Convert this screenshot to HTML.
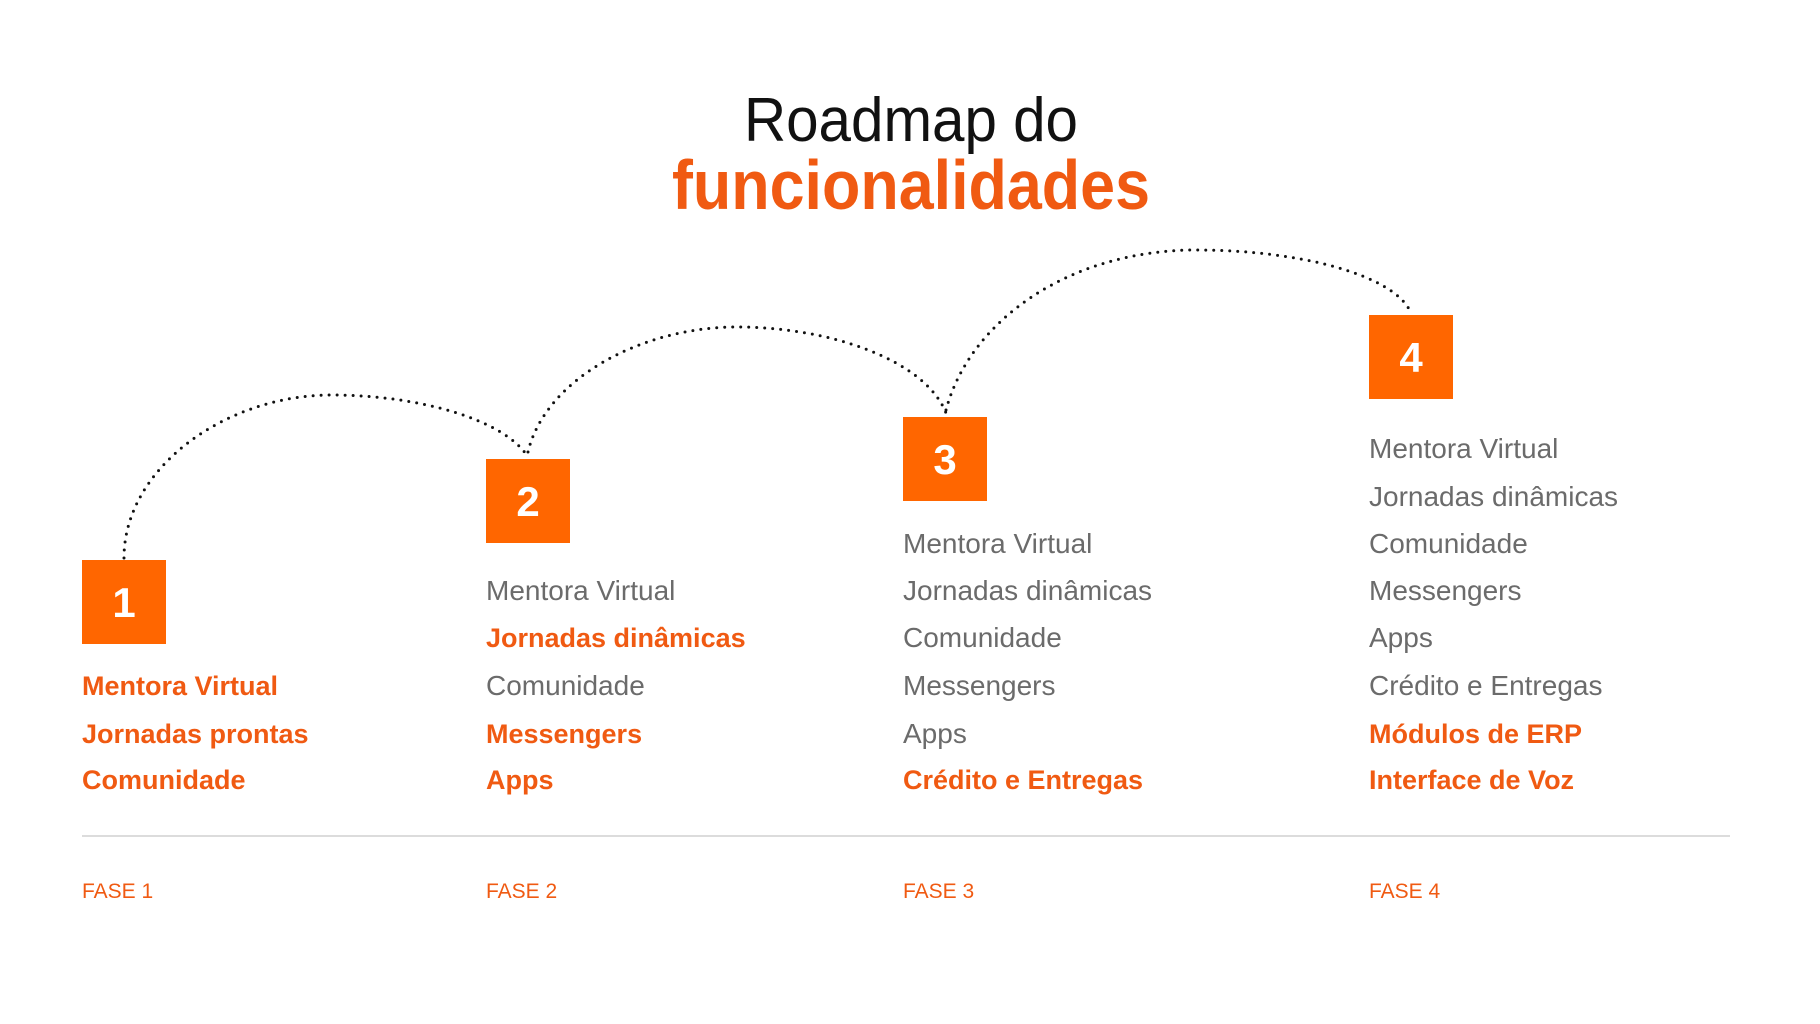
<!DOCTYPE html>
<html><head><meta charset="utf-8"><style>
body{margin:0;background:#fff;}
svg{display:block}
.g{fill:#6b6b6b;font-family:"Liberation Sans",sans-serif;font-size:28px}
.o{fill:#f05a12;font-family:"Liberation Sans",sans-serif;font-size:27px;font-weight:bold}
.f{fill:#f05a12;font-family:"Liberation Sans",sans-serif;font-size:21px}
.n{fill:#fff;font-family:"Liberation Sans",sans-serif;font-size:42px;font-weight:bold}
</style></head><body>
<svg width="1820" height="1024" viewBox="0 0 1820 1024">
<text x="911" y="141" text-anchor="middle" font-family="Liberation Sans,sans-serif" font-size="62" fill="#111" textLength="334" lengthAdjust="spacingAndGlyphs">Roadmap do</text>
<text x="911" y="209" text-anchor="middle" font-family="Liberation Sans,sans-serif" font-size="70" font-weight="bold" fill="#f05a12" textLength="478" lengthAdjust="spacingAndGlyphs">funcionalidades</text>
<g fill="none" stroke="#111" stroke-width="3" stroke-linecap="round" stroke-dasharray="0 8">
<path d="M124 558 C124 468 226 395 331 395 C420 395 505 420 528 457"/>
<path d="M528 452 C545 380 640 327 737 327 C830 327 925 360 946 413"/>
<path d="M946 410 C970 320 1070 250 1196 250 C1300 250 1395 275 1411 313"/>
</g>
<g fill="#ff6600">
<rect x="82" y="560" width="84" height="84"/>
<rect x="486" y="459" width="84" height="84"/>
<rect x="903" y="417" width="84" height="84"/>
<rect x="1369" y="315" width="84" height="84"/>
</g>
<text class="n" x="124" y="617" text-anchor="middle">1</text>
<text class="n" x="528" y="516" text-anchor="middle">2</text>
<text class="n" x="945" y="474" text-anchor="middle">3</text>
<text class="n" x="1411" y="372" text-anchor="middle">4</text>

<text class="o" x="82" y="695">Mentora Virtual</text>
<text class="o" x="82" y="743">Jornadas prontas</text>
<text class="o" x="82" y="789">Comunidade</text>

<text class="g" x="486" y="600">Mentora Virtual</text>
<text class="o" x="486" y="647">Jornadas dinâmicas</text>
<text class="g" x="486" y="695">Comunidade</text>
<text class="o" x="486" y="743">Messengers</text>
<text class="o" x="486" y="789">Apps</text>

<text class="g" x="903" y="553">Mentora Virtual</text>
<text class="g" x="903" y="600">Jornadas dinâmicas</text>
<text class="g" x="903" y="647">Comunidade</text>
<text class="g" x="903" y="695">Messengers</text>
<text class="g" x="903" y="743">Apps</text>
<text class="o" x="903" y="789">Crédito e Entregas</text>

<text class="g" x="1369" y="458">Mentora Virtual</text>
<text class="g" x="1369" y="506">Jornadas dinâmicas</text>
<text class="g" x="1369" y="553">Comunidade</text>
<text class="g" x="1369" y="600">Messengers</text>
<text class="g" x="1369" y="647">Apps</text>
<text class="g" x="1369" y="695">Crédito e Entregas</text>
<text class="o" x="1369" y="743">Módulos de ERP</text>
<text class="o" x="1369" y="789">Interface de Voz</text>

<line x1="82" y1="836" x2="1730" y2="836" stroke="#d0d0d0" stroke-width="1.5"/>
<text class="f" x="82" y="898">FASE 1</text>
<text class="f" x="486" y="898">FASE 2</text>
<text class="f" x="903" y="898">FASE 3</text>
<text class="f" x="1369" y="898">FASE 4</text>
</svg>
</body></html>
